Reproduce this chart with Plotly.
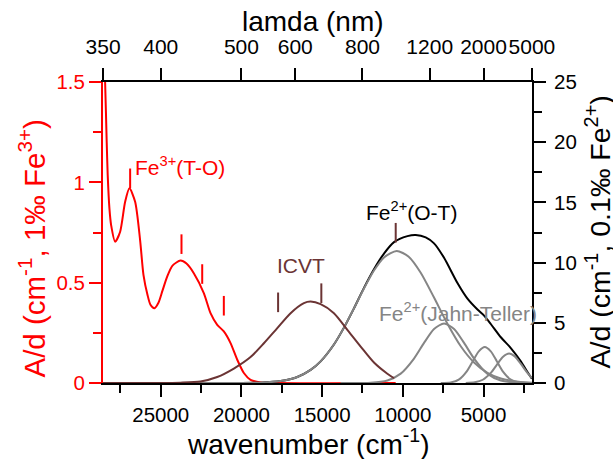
import plotly.graph_objects as go

# ---------------- data (wavenumber in cm^-1) ----------------
red_wn = [28571, 28449, 28350, 28288, 28182, 28077, 27828, 27518, 27208, 26941,
          26588, 26278, 26073, 25825, 25639, 25391, 25143, 24894, 24603, 24274,
          23778, 23406, 22953, 22333, 21917, 21501, 21092, 20676, 20260, 19851,
          19436, 18816, 17885, 10442]
red_ad = [1.75, 1.50, 1.20, 1.036, 0.87, 0.787, 0.704, 0.754, 0.903, 0.970,
          0.903, 0.71, 0.539, 0.44, 0.39, 0.373, 0.40, 0.46, 0.53, 0.585,
          0.610, 0.595, 0.547, 0.448, 0.348, 0.290, 0.257, 0.199, 0.116, 0.050,
          0.016, 0.003, 0.0, 0.0]

ivct_wn = [28571, 25018, 23778, 22537, 21501, 20472, 19436, 18611, 17780, 16955,
           16130, 15714, 15094, 14269, 13438, 12613, 11788, 10957, 10547]
ivct_ad = [0.0, 0.0, 0.03, 0.13, 0.5, 1.2, 2.15, 3.3, 4.56, 5.8,
           6.63, 6.76, 6.55, 5.8, 4.42, 3.03, 1.7, 0.77, 0.41]

ot_wn = [28571, 20677, 18816, 17575, 16540, 15714, 15094, 14269, 13648, 13028,
         12408, 11788, 11167, 10380, 9636, 8891, 8066, 7235, 6410, 5585,
         4754, 3928, 3103, 2000]
ot_ad = [0.0, 0.0, 0.03, 0.16, 0.50, 1.09, 1.8, 3.2, 4.6, 6.2,
         7.85, 9.34, 10.43, 10.97, 10.49, 9.16, 7.1, 4.92, 3.05, 1.7,
         0.84, 0.37, 0.15, 0.03]

jt_wn = [13853, 11992, 10957, 10131, 9306, 8686, 8065, 7445, 6825, 6205,
         5585, 4768, 3928, 2898, 2000]
jt_ad = [0.0, 0.02, 0.21, 0.78, 2.03, 3.33, 4.48, 4.95, 4.48, 3.33,
         2.03, 0.78, 0.21, 0.02, 0.0]

b3_wn = [7650, 7030, 6534, 6037, 5665, 5293, 4921, 4549, 4177, 3805, 3309, 2812, 2192]
b3_ad = [0.0, 0.05, 0.28, 0.97, 1.81, 2.63, 2.98, 2.63, 1.81, 0.97, 0.28, 0.05, 0.0]

b4_wn = [6099, 5541, 5045, 4549, 4177, 3805, 3414, 3060, 2688, 2316, 2000]
b4_ad = [0.0, 0.06, 0.27, 0.84, 1.51, 2.16, 2.45, 2.21, 1.58, 0.9, 0.4]

sum_wn = [28571, 20677, 18816, 17575, 16540, 15714, 15094, 14269, 13648, 13028,
          12408, 11788, 11167, 10547, 9716, 9201, 8581, 8066, 7445, 6614,
          5994, 5374, 4964, 4549, 3928, 3308, 2688, 2316, 2000]
sum_ad = [0.0, 0.0, 0.03, 0.16, 0.5, 1.09, 1.8, 3.2, 4.6, 6.2,
          7.9, 9.45, 10.75, 11.7, 12.2, 12.3, 12.1, 11.6, 10.4, 8.3,
          7.0, 6.1, 5.6, 4.9, 3.8, 2.9, 1.8, 1.0, 0.35]

# band-position marks
fe3_marks_wn = [26898, 23716, 22432, 21092]
fe3_marks_ad = [1.02, 0.692, 0.543, 0.385]
fe2_marks_wn = [17729, 15050, 10441]
fe2_marks_ad = [6.70, 7.46, 12.48]

# top axis (wavelength) ticks
lam_labels = ["350", "400", "500", "600", "800", "1200", "2000", "5000"]
lam_nm = [350, 400, 500, 600, 800, 1200, 2000, 5000]
lam_wn = [1e7 / v for v in lam_nm]

RED = "#ff0000"
BROWN = "#6b3434"
GREY = "#858585"
FONT = "Arial, Liberation Sans, sans-serif"
XR = [28580, 1995]

fig = go.Figure()

def line(x, y, color, yaxis="y2"):
    fig.add_trace(go.Scatter(x=x, y=y, mode="lines", yaxis=yaxis, hoverinfo="skip",
                             line=dict(color=color, width=2, shape="spline", smoothing=0.7)))

line(sum_wn, sum_ad, "black")
line(ot_wn, ot_ad, GREY)
line(jt_wn, jt_ad, GREY)
line(b3_wn, b3_ad, GREY)
line(b4_wn, b4_ad, GREY)
line(ivct_wn, ivct_ad, BROWN)
line(red_wn, red_ad, RED, yaxis="y")

fig.add_trace(go.Scatter(x=fe3_marks_wn, y=fe3_marks_ad, mode="markers", yaxis="y",
                         hoverinfo="skip",
                         marker=dict(symbol="line-ns", size=14, line=dict(color=RED, width=2))))
fig.add_trace(go.Scatter(x=fe2_marks_wn, y=fe2_marks_ad, mode="markers", yaxis="y2",
                         hoverinfo="skip",
                         marker=dict(symbol="line-ns", size=14, line=dict(color=BROWN, width=2))))
# invisible trace to carry the top axis
fig.add_trace(go.Scatter(x=lam_wn, y=[None] * len(lam_wn), xaxis="x2", yaxis="y",
                         mode="markers", hoverinfo="skip"))

tickfont = dict(family=FONT, size=20.5, color="black")

fig.update_layout(
    width=613, height=459,
    margin=dict(l=103, r=81, t=82, b=76),
    paper_bgcolor="white", plot_bgcolor="white",
    showlegend=False,
    hovermode=False,
    font=dict(family=FONT),
    xaxis=dict(range=XR, showgrid=False, zeroline=False, showline=True,
               linecolor="black", linewidth=2, ticks="outside", ticklen=12,
               tickwidth=2, tickcolor="black", tick0=0, dtick=5000,
               tickformat="d", tickfont=tickfont, tickangle=0,
               minor=dict(ticks="outside", ticklen=8, tickwidth=2,
                          tickcolor="black", dtick=2500, showgrid=False)),
    xaxis2=dict(range=XR, overlaying="x", side="top", anchor="y",
                showgrid=False, zeroline=False, showline=True,
                linecolor="black", linewidth=2, ticks="outside", ticklen=12,
                tickwidth=2, tickcolor="black", tickmode="array",
                tickvals=lam_wn, ticktext=lam_labels, ticklabelstandoff=6,
                tickangle=0,
                tickfont=dict(family=FONT, size=21, color="black")),
    yaxis=dict(range=[0, 1.5], showgrid=False, zeroline=False, showline=True,
               linecolor=RED, linewidth=2, ticks="outside", ticklen=12,
               tickwidth=2, tickcolor=RED, dtick=0.5,
               tickfont=dict(family=FONT, size=20.5, color=RED),
               minor=dict(ticks="outside", ticklen=8, tickwidth=2,
                          tickcolor=RED, dtick=0.25, showgrid=False)),
    yaxis2=dict(range=[0, 25], overlaying="y", side="right", anchor="x",
                showgrid=False, zeroline=False, showline=True,
                linecolor="black", linewidth=2, ticks="outside", ticklen=12,
                tickwidth=2, tickcolor="black", dtick=5, tickfont=tickfont,
                ticklabelstandoff=4,
                minor=dict(ticks="outside", ticklen=8, tickwidth=2,
                           tickcolor="black", dtick=2.5, showgrid=False)),
)

ann = [
    dict(text="lamda (nm)", xref="paper", yref="paper", x=0.5, y=1, xshift=-5,
         yshift=61, yanchor="middle", font=dict(size=28, color="black")),
    dict(text="wavenumber (cm<sup>-1</sup>)", xref="paper", yref="paper", x=0.5, y=0,
         xshift=-9, yshift=-59, yanchor="middle", font=dict(size=28, color="black")),
    dict(text="A/d (cm<sup>-1</sup>, 1‰ Fe<sup>3+</sup>)", xref="paper", yref="paper",
         x=0, y=0.5, xshift=-71, yshift=-16, textangle=-90, xanchor="center",
         yanchor="middle", font=dict(size=29.5, color=RED)),
    dict(text="A/d (cm<sup>-1</sup>, 0.1‰ Fe<sup>2+</sup>)", xref="paper", yref="paper",
         x=1, y=0.5, xshift=66, yshift=0, textangle=-90, xanchor="center",
         yanchor="middle", font=dict(size=28.5, color="black")),
    dict(text="Fe<sup>3+</sup>(T-O)", xref="x", yref="y", x=26692, y=1.081,
         xanchor="left", yanchor="middle", font=dict(size=21, color=RED)),
    dict(text="ICVT", xref="x", yref="y", x=16303, y=0.586,
         xanchor="center", yanchor="middle", font=dict(size=21, color=BROWN)),
    dict(text="Fe<sup>2+</sup>(O-T)", xref="x", yref="y", x=9449, y=0.857,
         xanchor="center", yanchor="middle", font=dict(size=21, color="black")),
    dict(text="Fe<sup>2+</sup>(Jahn-Teller)", xref="x", yref="y", x=6565, y=0.356,
         xanchor="center", yanchor="middle", font=dict(size=21, color=GREY)),
]
for a in ann:
    a.setdefault("showarrow", False)
    a["font"]["family"] = FONT
fig.update_layout(annotations=ann)

fig.write_html("out.html", config={"displayModeBar": False, "staticPlot": True},
               post_script="document.body.style.margin='0';document.body.style.padding='0';")
